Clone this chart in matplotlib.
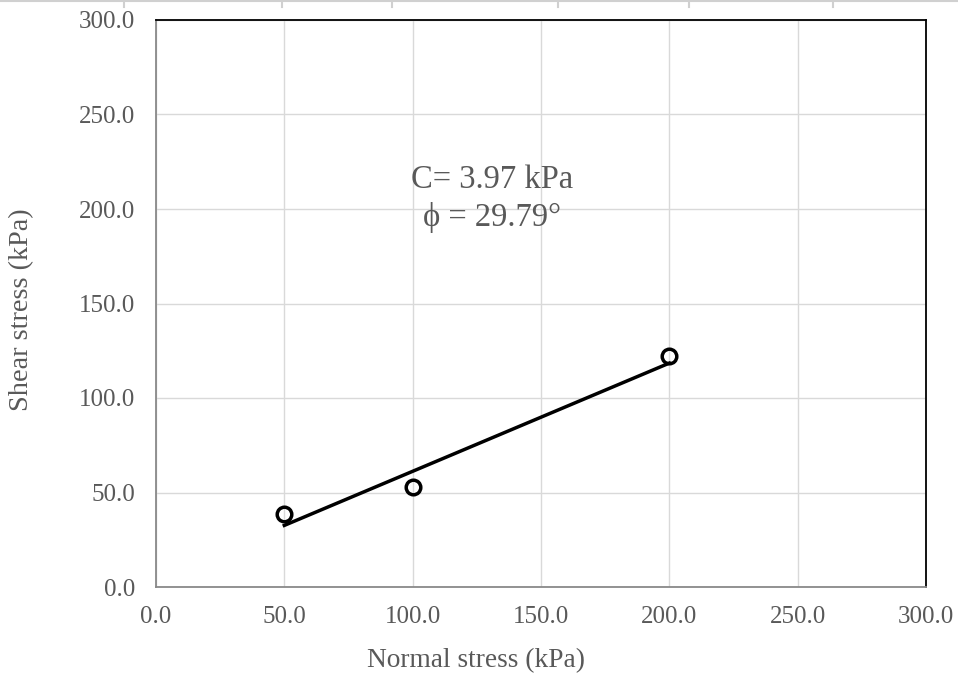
import matplotlib.pyplot as plt
import numpy as np
from matplotlib.lines import Line2D

# measured points
normal = [50.0, 100.0, 200.0]
shear = [38.5, 53.0, 122.0]

# failure envelope parameters
cohesion = 3.97
phi = 29.79

xticks = np.arange(0, 301, 50)
yticks = np.arange(0, 301, 50)

plt.rcParams['font.family'] = ['Liberation Serif', 'DejaVu Serif']
txt = '#595959'

fig = plt.figure(figsize=(9.58, 6.78), dpi=100)
ax = fig.add_axes([156/958, 1-587/678, 770/958, 567/678])

ax.grid(True, color='#d9d9d9', lw=1.0, zorder=0)
ax.set_axisbelow(True)

# trendline from the envelope parameters
xl = np.array([normal[0], normal[-1]])
ax.plot(xl, cohesion + np.tan(np.radians(phi))*xl, color='black', lw=2.5, zorder=3)
ax.plot(normal, shear, 'o', mfc='none', mec='black', mew=2.5, ms=10.5, zorder=4)

ax.set_xlim(0, 300)
ax.set_ylim(0, 300)
ax.set_xticks(xticks)
ax.set_yticks(yticks)
ax.set_xticklabels([f'{v:.1f}' for v in xticks])
ax.set_yticklabels([f'{v:.1f}' for v in yticks])
ax.tick_params(length=0, labelsize=18, colors=txt)
ax.tick_params(axis='y', pad=15)
ax.tick_params(axis='x', pad=14)

for s in ['left', 'bottom']:
    ax.spines[s].set_color('#898989')
    ax.spines[s].set_linewidth(1.3)
for s in ['top', 'right']:
    ax.spines[s].set_color('black')
    ax.spines[s].set_linewidth(1.3)

fig.text(476/958, 1-661/678, 'Normal stress (kPa)', ha='center', va='center', fontsize=19.7, color=txt)
fig.text(22/958, 1-310/678, 'Shear stress (kPa)', ha='center', va='center', rotation=90, fontsize=20.3, color=txt)

ax.text(131, 205.5, f'C= {cohesion:.2f} kPa\nϕ = {phi:.2f}°', ha='center', va='center',
        fontsize=23.5, color=txt, linespacing=1.3)

# sheet border at top of picture
fig.add_artist(Line2D([0, 1], [1-1/678, 1-1/678], color='#d0d0d0', lw=1.5))
for px in [124, 282, 392, 558, 689, 833]:
    fig.add_artist(Line2D([px/958, px/958], [1, 1-7/678], color='#d0d0d0', lw=1.5))

fig.savefig('out.png', dpi=100)
